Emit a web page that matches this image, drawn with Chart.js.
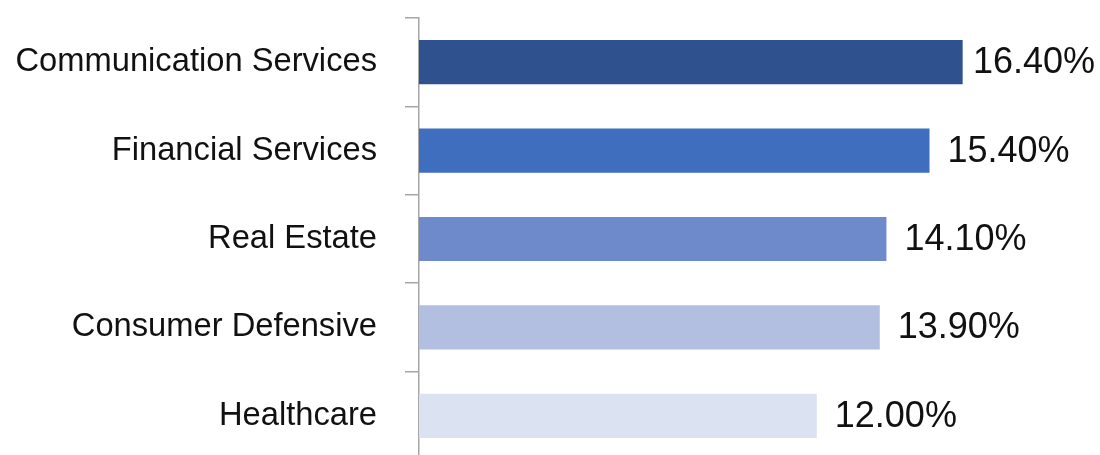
<!DOCTYPE html>
<html>
<head>
<meta charset="utf-8">
<script src="https://cdn.jsdelivr.net/npm/chart.js@4"></script>
<style>
  html, body { margin: 0; padding: 0; background: #fff; overflow: hidden; }
  .wrap { position: relative; width: 1100px; height: 462px; }
</style>
</head>
<body>
<div class="wrap"><canvas id="chart"></canvas></div>
<script>
const categories = ["Communication Services", "Financial Services", "Real Estate", "Consumer Defensive", "Healthcare"];
const values = [16.4, 15.4, 14.1, 13.9, 12.0];
const barColors = ["#2F528F", "#3F6EBF", "#6E8ACB", "#B3BFE0", "#DBE3F3"];

const FONT = "'Liberation Sans', Arial, Helvetica, sans-serif";

// draws the value text right of each bar, pulled in if it would run off the edge
const valueLabels = {
  id: "valueLabels",
  afterDatasetsDraw(chart) {
    const ctx = chart.ctx;
    const meta = chart.getDatasetMeta(0);
    ctx.save();
    ctx.font = "36px " + FONT;
    ctx.fillStyle = "#111";
    ctx.textAlign = "left";
    ctx.textBaseline = "middle";
    meta.data.forEach((bar, i) => {
      const txt = values[i].toFixed(2) + "%";
      const w = ctx.measureText(txt).width;
      const x = Math.min(bar.x + 18, chart.width - w - 5);
      ctx.fillText(txt, x, bar.y + 1);
    });
    ctx.restore();
  },
};

const ctx = document.getElementById("chart").getContext("2d");
new Chart(ctx, {
  type: "bar",
  data: {
    labels: categories,
    datasets: [
      {
        data: values,
        backgroundColor: barColors,
        borderWidth: 0,
        barPercentage: 0.5,
        categoryPercentage: 1.0,
      },
    ],
  },
  options: {
    indexAxis: "y",
    responsive: true,
    maintainAspectRatio: false,
    animation: false,
    layout: { padding: { top: 18, bottom: 2, left: 0, right: 18 } },
    plugins: {
      legend: { display: false },
      tooltip: { enabled: false },
    },
    scales: {
      x: {
        display: false,
        min: 0,
        max: 20,
      },
      y: {
        afterFit(scale) {
          scale.width = 419;
          scale.paddingTop = 0;
          scale.paddingBottom = 0;
        },
        border: { display: true, color: "#A6A6A6", width: 1.5 },
        grid: {
          display: true,
          offset: true,
          drawOnChartArea: false,
          drawTicks: true,
          tickLength: 14,
          color: "#A6A6A6",
          lineWidth: 1.5,
        },
        ticks: {
          color: "#111",
          padding: 28,
          font: { size: 32.7, family: FONT },
        },
      },
    },
  },
  plugins: [valueLabels],
});
</script>
</body>
</html>
